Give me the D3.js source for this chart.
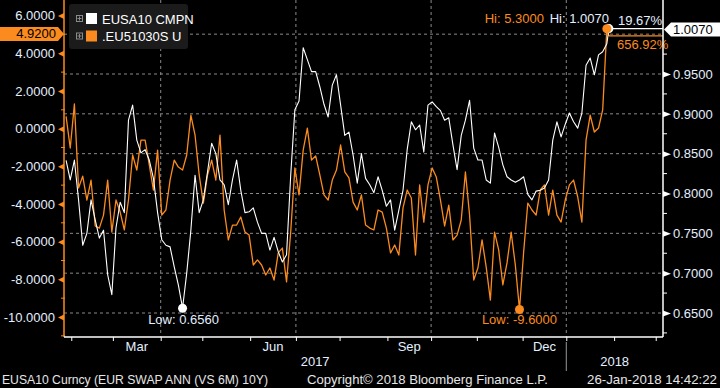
<!DOCTYPE html>
<html>
<head>
<meta charset="utf-8">
<script src="https://cdn.jsdelivr.net/npm/d3@7"></script>
<style>
  html, body { margin: 0; padding: 0; background: #000; }
  svg { display: block; font-family: "Liberation Sans", Arial, sans-serif; }
</style>
</head>
<body>
<svg id="chart" width="720" height="388"></svg>
<script>
// EUSA10 CMPN (right axis), sampled every 2nd business day, last points daily
const eusa10 = [
  0.8415, 0.817, 0.842, 0.792, 0.735, 0.750, 0.792, 0.767, 0.744, 0.754,
  0.698, 0.673, 0.757, 0.789, 0.776, 0.892, 0.911, 0.867, 0.851, 0.855,
  0.842, 0.819, 0.776, 0.742, 0.735, 0.733, 0.708, 0.685, 0.656, 0.700,
  0.754, 0.823, 0.776, 0.792, 0.827, 0.863, 0.850, 0.817, 0.811, 0.786,
  0.817, 0.842, 0.804, 0.776, 0.777, 0.782, 0.764, 0.750, 0.750, 0.729,
  0.745, 0.727, 0.714, 0.723, 0.823, 0.905, 0.916, 0.983, 0.968, 0.953,
  0.953, 0.934, 0.912, 0.896, 0.936, 0.949, 0.911, 0.873, 0.877, 0.848,
  0.813, 0.850, 0.819, 0.811, 0.801, 0.821, 0.804, 0.784, 0.792, 0.754,
  0.779, 0.804, 0.855, 0.890, 0.880, 0.886, 0.852, 0.911, 0.915, 0.909,
  0.904, 0.892, 0.895, 0.861, 0.830, 0.873, 0.892, 0.917, 0.857, 0.842,
  0.842, 0.817, 0.813, 0.876, 0.858, 0.836, 0.821, 0.817, 0.814, 0.817,
  0.821, 0.799, 0.792, 0.803, 0.804, 0.807, 0.817, 0.867, 0.890, 0.871,
  0.887, 0.901, 0.890, 0.882, 0.901, 0.961, 0.970, 0.949, 0.974, 0.978,
  0.988, 1.007
];

// .EU51030S U (left axis)
const eu51030s = [
  0.65, -1.03, 1.31, -3.15, -2.52, -3.79, -2.73, -5.17, -5.28, -4.59,
  -2.73, -5.49, -3.79, -4.43, -5.38, -3.79, -1.40, -2.20, -0.61, -0.61,
  -1.93, -3.26, -1.14, -4.59, -4.32, -2.73, -1.67, -2.04, -2.20, -1.40,
  0.72, -0.34, -2.46, -3.95, -2.46, -1.67, -2.73, -0.34, -4.32, -5.91,
  -5.12, -5.12, -4.69, -5.49, -5.65, -7.24, -6.97, -7.24, -7.77, -7.40,
  -8.04, -6.60, -6.34, -8.14, -5.49, -2.09, -3.52, -1.14, 0.03, -1.67,
  -1.45, -2.46, -3.52, -3.79, -2.73, -2.20, -0.87, -2.30, -2.62, -3.90,
  -4.32, -3.52, -5.12, -5.28, -5.38, -4.32, -4.43, -5.28, -6.60, -6.18,
  -6.71, -4.21, -3.26, -3.68, -6.71, -2.99, -4.96, -2.99, -2.09, -2.57,
  -3.79, -5.17, -4.06, -5.91, -5.65, -4.85, -2.30, -4.59, -8.04, -7.40,
  -5.91, -7.35, -9.10, -5.49, -6.44, -8.30, -7.13, -5.49, -7.24, -9.60,
  -6.55, -3.95, -4.32, -4.59, -3.26, -2.99, -4.59, -3.26, -4.59, -4.96,
  -3.79, -2.99, -2.73, -3.63, -4.96, -0.61, 0.72, -0.18, 0.03, 0.99,
  5.30, 4.92
];

// business-day offset (from 26-Jan-2017) of each sample
const sampleDay = d3.range(1, 260, 2).concat([261, 262]);

const leftTicks = [6, 4, 2, 0, -2, -4, -6, -8, -10];
const leftMinor = [5, 3, 1, -1, -3, -5, -7, -9, -11];
const rightTicks = [1.0, 0.95, 0.9, 0.85, 0.8, 0.75, 0.7, 0.65];
const rightLabels = [0.95, 0.9, 0.85, 0.8, 0.75, 0.7, 0.65]; // 1.0000 sits under the last-value box
const rightMinor = [0.975, 0.925, 0.875, 0.825, 0.775, 0.725, 0.675, 0.625];
const monthNames = ['Mar', 'Jun', 'Sep', 'Dec'];
const labelMonths = [new Date(2017, 2, 1), new Date(2017, 5, 1), new Date(2017, 8, 1), new Date(2017, 11, 1)];
const quarterStarts = [new Date(2017, 3, 1), new Date(2017, 6, 1), new Date(2017, 9, 1), new Date(2018, 0, 1)];
const yearNames = ['2017', '2018'];
const seriesNames = ['EUSA10 CMPN', '.EU51030S U'];
const footer = ['EUSA10 Curncy (EUR SWAP ANN (VS 6M) 10Y)', 'Copyright\u00A9 2018 Bloomberg Finance L.P.', '26-Jan-2018 14:42:22'];

const ORANGE = '#fb8b1e';
const WHITE = '#ffffff';
const LABEL = '#e4efff';
const GRID = '#8a8a8a';

const svg = d3.select('#chart');
svg.append('rect').attr('width', 720).attr('height', 388).attr('fill', '#000');

// business-day calendar
const firstDay = new Date(2017, 0, 26);
const bdays = d3.timeDay.range(firstDay, new Date(2018, 3, 1)).filter(d => d.getDay() % 6 !== 0);
const dayIndex = date => d3.bisectLeft(bdays, date);

const plot = { left: 64, right: 663, top: 0, bottom: 337 };
const x = d3.scaleLinear().domain([0, 288]).range([plot.left, plot.right]);
const yL = d3.scaleLinear().domain([-10, 6]).range([317, 15.6]);
const yR = d3.scaleLinear().domain([0.65, 0.95]).range([313, 74]);

const white = sampleDay.map((d, i) => ({ d, v: eusa10[i] }));
const orange = sampleDay.map((d, i) => ({ d, v: eu51030s[i] }));

// gridlines
svg.append('g').selectAll('line').data(rightTicks).join('line')
  .attr('x1', plot.left).attr('x2', plot.right)
  .attr('y1', d => yR(d)).attr('y2', d => yR(d))
  .attr('stroke', GRID).attr('stroke-width', 1).attr('stroke-dasharray', '3,3');

svg.append('g').selectAll('line').data(quarterStarts).join('line')
  .attr('x1', d => x(dayIndex(d) - 0.5)).attr('x2', d => x(dayIndex(d) - 0.5))
  .attr('y1', plot.top).attr('y2', plot.bottom)
  .attr('stroke', GRID).attr('stroke-width', 1).attr('stroke-dasharray', '3,3');

// year separator below axis
const janX = x(dayIndex(new Date(2018, 0, 1)) - 0.5);
svg.append('line').attr('x1', janX).attr('x2', janX).attr('y1', 342).attr('y2', 371)
  .attr('stroke', '#9a9a9a').attr('stroke-width', 1);

// series
const lineO = d3.line().x(d => x(d.d)).y(d => yL(d.v));
const lineW = d3.line().x(d => x(d.d)).y(d => yR(d.v));
svg.append('path').datum(orange).attr('d', lineO).attr('fill', 'none')
  .attr('stroke', ORANGE).attr('stroke-width', 1.3).attr('stroke-linejoin', 'round');
svg.append('path').datum(white).attr('d', lineW).attr('fill', 'none')
  .attr('stroke', WHITE).attr('stroke-width', 1.1).attr('stroke-linejoin', 'round');

// last value tails and change %
const lastW = white[white.length - 1], lastO = orange[orange.length - 1];
svg.append('line').attr('x1', x(lastW.d)).attr('x2', plot.right)
  .attr('y1', yR(lastW.v)).attr('y2', yR(lastW.v)).attr('stroke', WHITE).attr('stroke-width', 1.3);
svg.append('line').attr('x1', x(lastO.d)).attr('x2', plot.right)
  .attr('y1', yL(lastO.v)).attr('y2', yL(lastO.v)).attr('stroke', ORANGE).attr('stroke-width', 1.3);

const pct = d3.format('.2%');
svg.append('text').attr('x', 618).attr('y', yR(lastW.v) - 4).attr('fill', LABEL)
  .attr('font-size', 13).text(pct(lastW.v / white[0].v - 1));
svg.append('text').attr('x', 617).attr('y', yL(lastO.v) + 13).attr('fill', ORANGE)
  .attr('font-size', 13).text(pct((lastO.v - orange[0].v) / Math.abs(orange[0].v)));

// hi / low markers
const hiW = white.reduce((a, b) => (b.v > a.v ? b : a));
const loW = white.reduce((a, b) => (b.v < a.v ? b : a));
const hiO = orange.reduce((a, b) => (b.v > a.v ? b : a));
const loO = orange.reduce((a, b) => (b.v < a.v ? b : a));

svg.append('circle').attr('cx', x(hiW.d)).attr('cy', yR(hiW.v)).attr('r', 4.5).attr('fill', WHITE);
svg.append('circle').attr('cx', x(loW.d)).attr('cy', yR(loW.v)).attr('r', 4.5).attr('fill', WHITE);
svg.append('circle').attr('cx', x(hiO.d)).attr('cy', yL(hiO.v)).attr('r', 4.5).attr('fill', ORANGE);
svg.append('circle').attr('cx', x(loO.d)).attr('cy', yL(loO.v)).attr('r', 4.5).attr('fill', ORANGE);

svg.append('text').attr('x', x(hiW.d)).attr('y', 23).attr('text-anchor', 'end')
  .attr('fill', LABEL).attr('font-size', 13).text('Hi: ' + hiW.v.toFixed(4));
svg.append('text').attr('x', x(hiW.d) - 65).attr('y', 23).attr('text-anchor', 'end')
  .attr('fill', ORANGE).attr('font-size', 13).text('Hi: ' + hiO.v.toFixed(4));
svg.append('text').attr('x', x(loW.d) + 1).attr('y', 324).attr('text-anchor', 'middle')
  .attr('fill', LABEL).attr('font-size', 13).text('Low: ' + loW.v.toFixed(4));
svg.append('text').attr('x', x(loO.d)).attr('y', 324).attr('text-anchor', 'middle')
  .attr('fill', ORANGE).attr('font-size', 13).text('Low: ' + loO.v.toFixed(4));

// left axis (orange)
const gL = svg.append('g').attr('transform', `translate(${plot.left},0)`)
  .call(d3.axisLeft(yL).tickValues(leftTicks).tickSize(0).tickPadding(9).tickFormat(d => d.toFixed(4)));
gL.select('.domain').remove();
gL.selectAll('text').attr('fill', LABEL).attr('font-size', 13).attr('font-family', null);
gL.selectAll('.tick').append('path').attr('d', 'M0,-3L-6,0L0,3Z').attr('fill', ORANGE);
svg.append('g').selectAll('line').data(leftMinor).join('line')
  .attr('x1', plot.left - 3).attr('x2', plot.left + 1)
  .attr('y1', d => yL(d)).attr('y2', d => yL(d)).attr('stroke', ORANGE);
svg.append('line').attr('x1', plot.left).attr('x2', plot.left).attr('y1', 0).attr('y2', plot.bottom)
  .attr('stroke', ORANGE).attr('stroke-width', 1.5);

// right axis (white)
const gR = svg.append('g').attr('transform', `translate(${plot.right},0)`)
  .call(d3.axisRight(yR).tickValues(rightLabels).tickSize(0).tickPadding(10).tickFormat(d => d.toFixed(4)));
gR.select('.domain').remove();
gR.selectAll('text').attr('fill', LABEL).attr('font-size', 13).attr('font-family', null);
gR.selectAll('.tick').append('path').attr('d', 'M0,-3L8,0L0,3Z').attr('fill', WHITE);
svg.append('g').selectAll('line').data(rightMinor).join('line')
  .attr('x1', plot.right).attr('x2', plot.right + 4)
  .attr('y1', d => yR(d)).attr('y2', d => yR(d)).attr('stroke', WHITE);
svg.append('line').attr('x1', plot.right).attr('x2', plot.right).attr('y1', 0).attr('y2', plot.bottom)
  .attr('stroke', WHITE).attr('stroke-width', 1.5);

// bottom axis
const monthTicks = d3.timeMonth.range(new Date(2017, 1, 1), new Date(2018, 2, 2)).map(m => dayIndex(m) - 0.5);
const gB = svg.append('g').attr('transform', `translate(0,${plot.bottom})`)
  .call(d3.axisBottom(x).tickValues(monthTicks).tickSize(4).tickFormat(''));
gB.select('.domain').remove();
gB.selectAll('line').attr('stroke', WHITE);
svg.append('line').attr('x1', plot.left).attr('x2', plot.right).attr('y1', plot.bottom).attr('y2', plot.bottom)
  .attr('stroke', WHITE).attr('stroke-width', 1.5);

svg.append('g').selectAll('text').data(monthNames).join('text')
  .attr('x', (d, i) => {
    const m = labelMonths[i];
    return x((dayIndex(m) + dayIndex(d3.timeMonth.offset(m, 1))) / 2 - 0.5);
  })
  .attr('y', 351).attr('text-anchor', 'middle').attr('fill', LABEL).attr('font-size', 13)
  .text(d => d);

svg.append('g').selectAll('text').data(yearNames).join('text')
  .attr('x', (d, i) => i === 0 ? (plot.left + janX) / 2 : (janX + plot.right) / 2)
  .attr('y', 366).attr('text-anchor', 'middle').attr('fill', LABEL).attr('font-size', 13)
  .text(d => d);

// last value boxes
const boxLy = yL(lastO.v) - 2;
svg.append('path')
  .attr('d', `M0,${boxLy - 7}H58L64,${boxLy}L58,${boxLy + 7}H0Z`).attr('fill', ORANGE);
svg.append('text').attr('x', 56).attr('y', boxLy + 4.5).attr('text-anchor', 'end')
  .attr('fill', '#000').attr('font-size', 13).text(lastO.v.toFixed(4));

const boxRy = yR(lastW.v) + 1;
svg.append('path')
  .attr('d', `M${plot.right + 1},${boxRy}L${plot.right + 8},${boxRy - 7}H720V${boxRy + 7}H${plot.right + 8}Z`)
  .attr('fill', WHITE);
svg.append('text').attr('x', 673).attr('y', boxRy + 4.5)
  .attr('fill', '#000').attr('font-size', 13).text(lastW.v.toFixed(4));

// legend
const legend = svg.append('g');
legend.append('rect').attr('x', 69).attr('y', 4).attr('width', 119).attr('height', 45)
  .attr('rx', 3).attr('fill', '#1b1b1b');
const swatch = [WHITE, ORANGE];
seriesNames.forEach((name, i) => {
  const cy = 18.5 + i * 17.5;
  legend.append('rect').attr('x', 76.5).attr('y', cy - 3).attr('width', 6).attr('height', 6)
    .attr('fill', 'none').attr('stroke', '#8a8a8a').attr('stroke-width', 1);
  legend.append('path').attr('d', `M77.5,${cy}H81.5M79.5,${cy - 2}V${cy + 2}`)
    .attr('stroke', '#8a8a8a').attr('stroke-width', 1);
  legend.append('rect').attr('x', 86).attr('y', cy - 5.5).attr('width', 11).attr('height', 11)
    .attr('fill', swatch[i]);
  legend.append('text').attr('x', 102).attr('y', cy + 5).attr('fill', WHITE)
    .attr('font-size', 13).text(name);
});

// footer
const footX = [2, 307, 587], footW = [266, 241, 130];
svg.append('g').selectAll('text').data(footer).join('text')
  .attr('x', (d, i) => footX[i]).attr('y', 384)
  .attr('textLength', (d, i) => footW[i]).attr('lengthAdjust', 'spacingAndGlyphs')
  .attr('fill', '#e6e6e6').attr('font-size', 13).text(d => d);
</script>
</body>
</html>
